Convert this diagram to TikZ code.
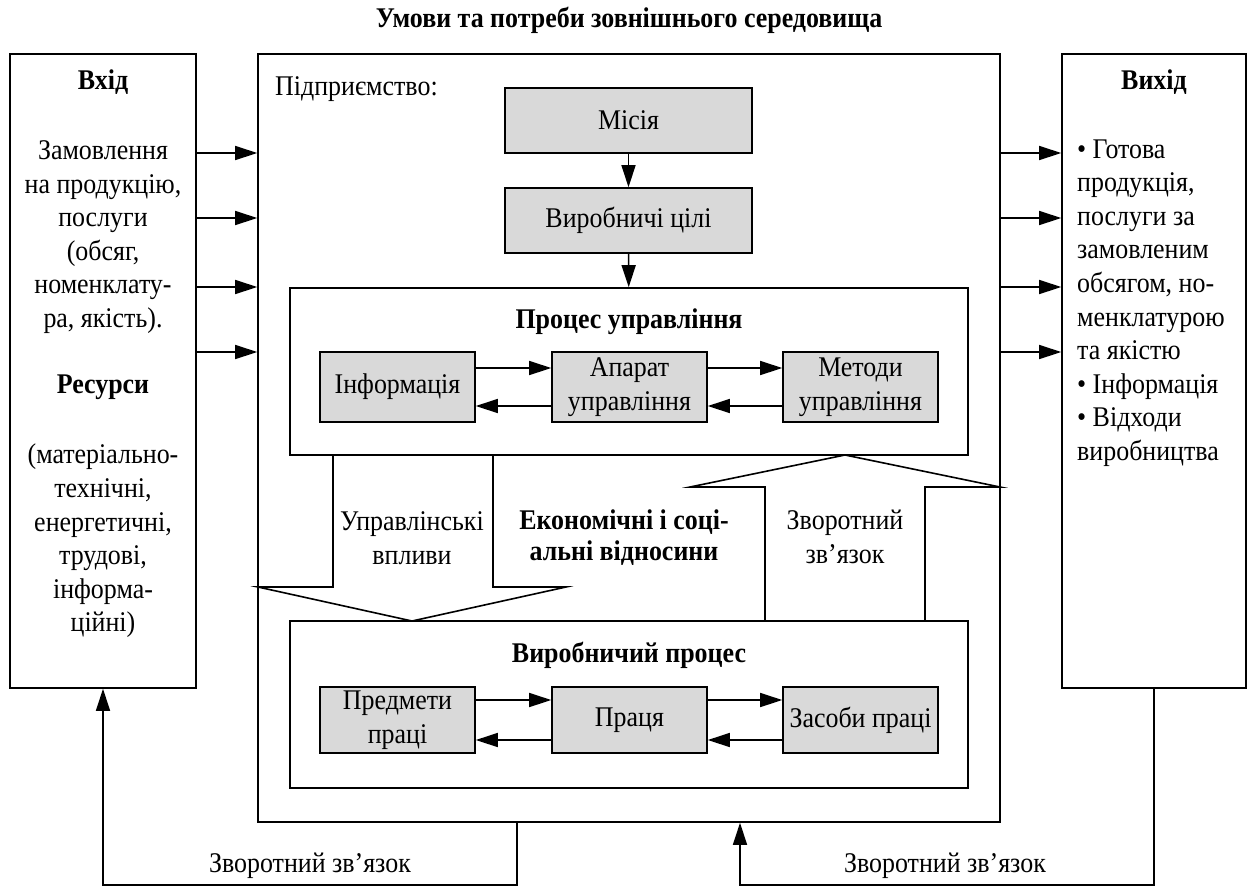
\documentclass[tikz,border=0pt]{standalone}
\usepackage{fontspec}
\setmainfont{Liberation Serif}[FakeStretch=0.91]
\usetikzlibrary{arrows.meta}
\definecolor{boxgray}{HTML}{D9D9D9}
\newcommand{\basefont}{\fontsize{28.5}{33.6}\selectfont}
\begin{document}
\begin{tikzpicture}[x=1pt,y=-1pt,
  every node/.style={font=\basefont},
  frame/.style={draw, line width=1.6pt, inner sep=0pt},
  gbox/.style={draw, line width=1.6pt, fill=boxgray, inner sep=2pt, align=center,
    minimum width=155pt},
  txt/.style={inner sep=0pt, align=center},
  head/.style={txt, font=\basefont\bfseries},
  arr/.style={line width=1.6pt, -{Triangle[length=22pt,width=14pt]}},
  bigarrow/.style={line width=1.6pt, line join=miter},
  ]
\useasboundingbox (0,0) rectangle (1248,887);

% title
\node[head] (title) at (629,20) {Умови та потреби зовнішнього середовища};

% three main frames
\node[frame, minimum width=186pt, minimum height=634pt] (inp) at (103,371) {};
\node[frame, minimum width=742pt, minimum height=768pt] (ent) at (629,438) {};
\node[frame, minimum width=184pt, minimum height=634pt] (outp) at (1154,371) {};

% input side
\node[head] (inhead) at (103,82) {Вхід};
\node[txt] (intext) at (103,237) {Замовлення\\на продукцію,\\послуги\\(обсяг,\\номенклату-\\ра, якість).};
\node[head] (reshead) at (103,387) {Ресурси};
\node[txt] (restext) at (103,541) {(матеріально-\\технічні,\\енергетичні,\\трудові,\\інформа-\\ційні)};

% output side
\node[head] (outhead) at (1154,82) {Вихід};
\node[txt, align=left, anchor=west] (outtext) at (1077,303)
  {• Готова\\продукція,\\послуги за\\замовленим\\обсягом, но-\\менклатурою\\та якістю\\• Інформація\\• Відходи\\виробництва};

% enterprise
\node[txt, anchor=west] (entlabel) at (275,89) {Підприємство:};
\node[gbox, minimum width=247pt, minimum height=65pt] (mis) at (628.5,120.5) {Місія};
\node[gbox, minimum width=247pt, minimum height=65pt] (goals) at (628.5,220.5) {Виробничі цілі};
\node[frame, minimum width=678pt, minimum height=167pt] (mgmt) at (629,371.5) {};
\node[head] (mgmthead) at (629,322) {Процес управління};
\node[gbox, minimum height=70pt] (info) at (397.5,387) {Інформація};
\node[gbox, minimum height=70pt] (appar) at (629.5,387) {Апарат\\управління};
\node[gbox, minimum height=70pt] (meth) at (860.5,387) {Методи\\управління};

\node[frame, minimum width=678pt, minimum height=167pt] (prod) at (629,704.5) {};
\node[head] (prodhead) at (629,655) {Виробничий процес};
\node[gbox, minimum height=66pt] (subj) at (397.5,720) {Предмети\\праці};
\node[gbox, minimum height=66pt] (labour) at (629.5,720) {Праця};
\node[gbox, minimum height=66pt] (means) at (860.5,720) {Засоби праці};

% arrows inside enterprise
\draw[arr] (mis) -- (goals);
\draw[arr] (goals) -- (mgmt);
\draw[arr] ([yshift=19pt]info.east) -- ([yshift=19pt]appar.west);
\draw[arr] ([yshift=19pt]appar.east) -- ([yshift=19pt]meth.west);
\draw[arr] ([yshift=-19pt]appar.west) -- ([yshift=-19pt]info.east);
\draw[arr] ([yshift=-19pt]meth.west) -- ([yshift=-19pt]appar.east);
\draw[arr] ([yshift=20pt]subj.east) -- ([yshift=20pt]labour.west);
\draw[arr] ([yshift=20pt]labour.east) -- ([yshift=20pt]means.west);
\draw[arr] ([yshift=-20pt]labour.west) -- ([yshift=-20pt]subj.east);
\draw[arr] ([yshift=-20pt]means.west) -- ([yshift=-20pt]labour.east);

% block arrows between the two processes
\draw[bigarrow] (333,455) -- (333,587) -- (258,587) -- (412,621) -- (566,587) -- (493,587) -- (493,455);
\draw[bigarrow] (765,621) -- (765,487) -- (690,487) -- (845,455) -- (1000,487) -- (925,487) -- (925,621);
\node[txt] (ctrl) at (412,538) {Управлінські\\впливи};
\node[txt, font=\fontsize{28.5}{31}\selectfont\bfseries] (econ) at (624,537.5) {Економічні і соці-\\альні відносини};
\node[txt] (fbmid) at (845,537) {Зворотний\\зв’язок};

% input and output arrows
\foreach \yy [count=\i] in {153,218,287,352} {
  \coordinate (row\i) at (0,\yy);
  \draw[arr] (inp.east |- row\i) -- (ent.west |- row\i);
  \draw[arr] (ent.east |- row\i) -- (outp.west |- row\i);
}

% feedback loops along the bottom
\coordinate (fbl) at (517,885);
\coordinate (fbr) at (740,885);
\draw[arr] (ent.south -| fbl) -- (fbl) -| (inp.south);
\draw[arr] (outp.south) |- (fbr) -- (ent.south -| fbr);
\node[txt] (fbleft) at (310,866) {Зворотний зв’язок};
\node[txt] (fbright) at (945,866) {Зворотний зв’язок};
\end{tikzpicture}
\end{document}
